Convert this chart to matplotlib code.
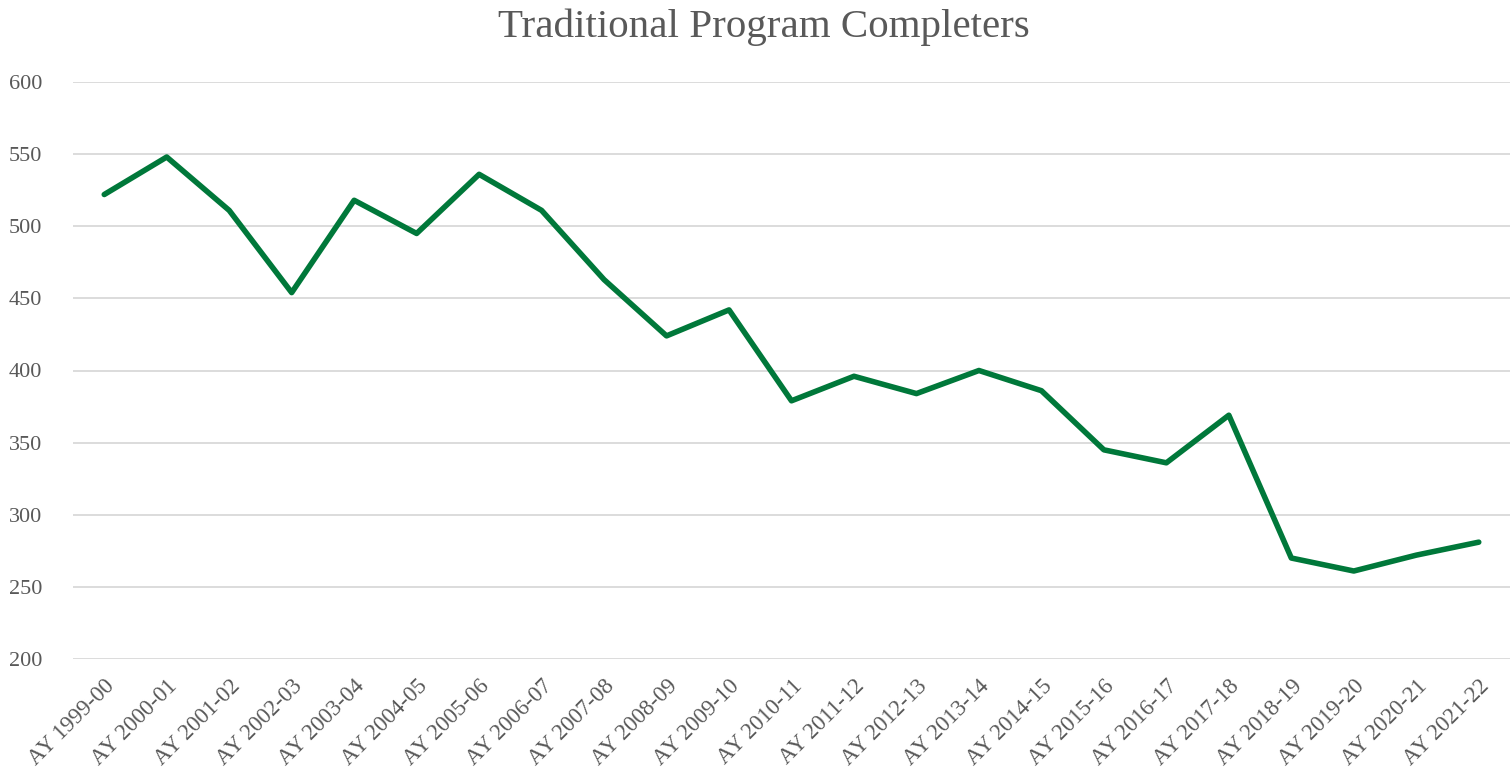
import matplotlib
matplotlib.use("Agg")
import matplotlib.pyplot as plt

categories = ["AY 1999-00", "AY 2000-01", "AY 2001-02", "AY 2002-03", "AY 2003-04",
              "AY 2004-05", "AY 2005-06", "AY 2006-07", "AY 2007-08", "AY 2008-09",
              "AY 2009-10", "AY 2010-11", "AY 2011-12", "AY 2012-13", "AY 2013-14",
              "AY 2014-15", "AY 2015-16", "AY 2016-17", "AY 2017-18", "AY 2018-19",
              "AY 2019-20", "AY 2020-21", "AY 2021-22"]
completers = [522, 548, 511, 454, 518, 495, 536, 511, 463, 424, 442, 379, 396, 384,
              400, 386, 345, 336, 369, 270, 261, 272, 281]
yticks = [200, 250, 300, 350, 400, 450, 500, 550, 600]

plt.rcParams['font.family'] = ['Liberation Serif', 'DejaVu Serif']
W, H = 1512, 784
fig = plt.figure(figsize=(W / 100, H / 100), dpi=100)
ax = fig.add_axes([73 / W, 1 - 659 / H, (1510 - 73) / W, (659 - 82) / H])

x = list(range(len(categories)))
ax.plot(x, completers, color='#00783a', linewidth=4.0, solid_capstyle='round',
        solid_joinstyle='round', zorder=3)

ax.set_xlim(-0.5, len(categories) - 0.5)
ax.set_ylim(200, 600)
ax.set_yticks(yticks)
ax.set_yticklabels([str(v) for v in yticks])
ax.set_xticks(x)
ax.set_xticklabels(categories, rotation=45, ha='right', rotation_mode='anchor')

ax.grid(axis='y', color='#d9d9d9', linewidth=1.3, zorder=0)
ax.grid(axis='x', visible=False)
for s in ax.spines.values():
    s.set_visible(False)
ax.tick_params(axis='both', length=0, colors='#595959')
ax.tick_params(axis='y', pad=22, labelsize=16)
ax.tick_params(axis='x', pad=12, labelsize=16.5)

fig.text(764 / W, 1 - 27 / H, "Traditional Program Completers", ha='center', va='center',
         fontsize=29.5, color='#595959')

fig.savefig("out.png", dpi=100, facecolor='white')
